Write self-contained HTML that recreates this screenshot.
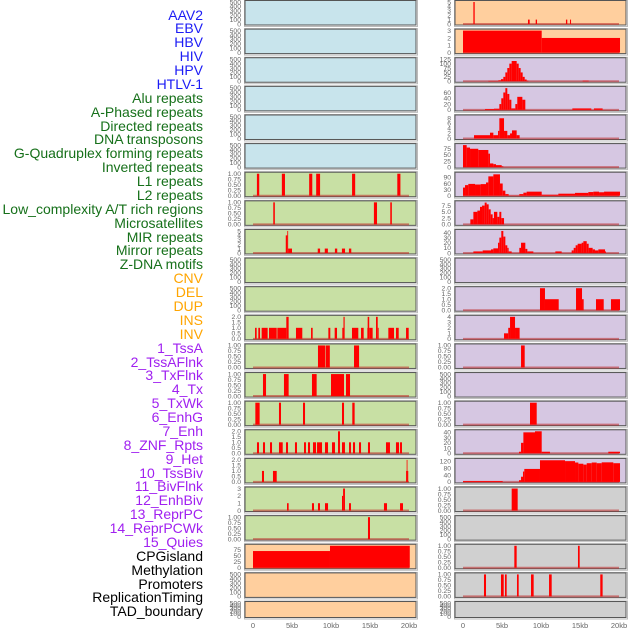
<!DOCTYPE html>
<html><head><meta charset="utf-8">
<style>
html,body{margin:0;padding:0;background:#fff;}
#root{position:relative;width:630px;height:630px;overflow:hidden;font-family:"Liberation Sans",sans-serif;}
.lab{position:absolute;right:427px;font-size:14px;line-height:14px;white-space:nowrap;}
svg{position:absolute;left:0;top:0;}
</style></head>
<body>
<div id="root">
<div id="labels"></div>
<svg id="chart" width="630" height="630"></svg>
</div>
<script>
// ---- track labels ----
const labelNames = ["AAV2","EBV","HBV","HIV","HPV","HTLV-1","Alu repeats","A-Phased repeats","Directed repeats","DNA transposons","G-Quadruplex forming repeats","Inverted repeats","L1 repeats","L2 repeats","Low_complexity A/T rich regions","Microsatellites","MIR repeats","Mirror repeats","Z-DNA motifs","CNV","DEL","DUP","INS","INV","1_TssA","2_TssAFlnk","3_TxFlnk","4_Tx","5_TxWk","6_EnhG","7_Enh","8_ZNF_Rpts","9_Het","10_TssBiv","11_BivFlnk","12_EnhBiv","13_ReprPC","14_ReprPCWk","15_Quies","CPGisland","Methylation","Promoters","ReplicationTiming","TAD_boundary"];
const labelGroups = [6,13,5,15,5];
const groupColors = ["#1c1cf5","#16701a","#ffa500","#a020f0","#000000"];

// ---- x axis ----
const xTickKb = [0,5,10,15,20];
const xTickText = ["0","5kb","10kb","15kb","20kb"];

// ---- panel y-axes ----
const emptyTicks = [0,100,200,300,400,500];
const t1 = [0,0.25,0.5,0.75,1];
const t2 = [0,0.5,1,1.5,2];

// ---- left column data: [startKb, endKb, value] ----
const L7 = [[0.5,0.8,1],[3.7,4.1,1],[7.2,7.6,1],[8.1,8.6,1],[12.7,13.1,1],[18.5,18.9,1]];
const L8 = [[2.6,2.8,1],[15.5,15.9,1],[17.6,17.8,1]];
const L9 = [[4.2,4.4,4],[4.4,4.5,5],[4.5,5.0,1],[8.3,8.6,1],[9.2,9.6,1],[10.5,10.8,1],[11.4,11.8,1],[12.3,12.6,1]];
const L12 = [[0.26,0.47,1],[0.68,0.9,1],[1.11,1.88,1],[2.05,3.04,1],[3.12,4.27,1],[4.27,4.57,2],[5.51,6.32,1],[7.44,7.65,1],[9.66,9.91,1],[10.47,10.77,1],[11.45,11.6,1],[11.6,11.75,2],[12.69,13.5,1],[13.85,14.19,1],[14.66,14.7,1],[14.7,14.9,2],[14.9,15.34,1],[15.77,15.99,2],[15.99,16.11,1],[17.35,18.08,1],[18.33,18.68,1],[19.62,19.96,1]];
const L13 = [[8.33,9.23,1],[9.3,9.85,1],[12.95,13.6,1]];
const L14 = [[1.28,1.67,1],[3.97,4.57,1],[7.56,8.16,1],[10.0,11.67,1],[11.92,12.44,1]];
const L15 = [[0.3,0.85,1],[3.33,3.59,1],[6.41,6.67,1],[11.41,11.67,1],[12.73,13.03,1]];
const L16 = [[0.51,0.77,1],[1.28,1.54,1],[2.18,2.44,1],[3.33,3.81,1],[4.23,4.49,1],[5.38,5.64,1],[6.54,6.79,1],[7.05,7.31,1],[7.69,8.08,1],[8.21,8.85,1],[9.23,9.62,1],[10.13,10.51,1],[10.9,11.15,2],[11.41,11.79,1],[12.31,12.56,1],[12.82,13.08,1],[13.59,13.85,1],[14.74,15.0,1],[17.05,17.56,1],[18.33,18.72,1],[18.85,19.1,1]];
const L17 = [[1.15,1.41,1],[2.56,3.04,1],[19.62,19.7,1],[19.7,19.8,2],[19.8,19.87,1]];
const L18 = [[4.36,4.57,1],[7.56,7.82,1],[8.33,8.59,1],[9.23,9.62,1],[11.41,11.55,2],[11.55,11.79,3],[12.31,12.56,1],[16.79,17.18,1],[18.85,19.23,1]];
const L19 = [[14.74,15.0,1]];
const L20 = [[0,9.87,70],[9.87,20.1,92]];

// ---- right column data ----
const R1 = [[1.33,1.5,5],[8.33,8.55,1],[9.32,9.49,1],[13.2,13.37,1],[13.72,13.85,1]];
const R2 = [[0,10.09,3],[10.09,20.13,2]];
const R3 = [[3.25,4.53,2],[4.53,4.87,5],[4.87,5.17,12],[5.17,5.43,25],[5.43,5.68,50],[5.68,5.94,75],[5.94,6.24,100],[6.24,6.88,115],[6.88,7.14,100],[7.14,7.39,75],[7.39,7.65,50],[7.65,7.91,25],[7.91,8.16,10],[8.16,8.38,3],[15.34,16.11,3]];
const R4 = [[2.82,3.97,3],[3.97,4.66,4],[4.66,4.91,20],[4.91,5.17,40],[5.17,5.43,60],[5.43,5.68,75],[5.68,5.94,55],[5.94,6.2,35],[6.2,6.71,5],[6.71,6.96,20],[6.96,7.61,45],[7.61,7.99,35],[14.02,16.45,5],[16.79,17.9,5]];
const R5 = [[1.41,3.46,1.3],[3.46,3.89,2.3],[3.89,4.49,1.3],[4.49,4.66,3],[4.66,5.26,8],[5.26,5.68,3],[5.68,6.03,1.3],[6.03,6.28,2],[6.28,6.88,3.2],[6.88,7.26,1.3]];
const R6 = [[0,0.47,90],[0.47,0.9,80],[0.9,1.96,75],[1.96,3.25,70],[3.25,3.46,55],[3.46,3.89,15],[3.89,4.23,12],[4.23,4.96,8],[4.96,5.17,3]];
const R7 = [[0,0.26,40],[0.26,0.68,52],[0.68,1.54,58],[1.54,2.26,55],[2.26,2.95,57],[2.95,3.25,65],[3.25,3.89,95],[3.89,4.74,105],[4.74,5.09,60],[5.09,5.43,25],[5.43,5.85,8],[5.85,7.22,1],[7.22,7.74,8],[7.74,8.16,15],[8.16,10.09,20],[10.09,12.22,5],[12.22,14.36,10],[14.36,16.07,14],[16.07,16.71,18],[16.71,17.44,20],[17.44,18.08,17],[18.08,20.13,20]];
const R8 = [[0.94,1.33,2],[1.33,1.84,5],[1.84,2.18,5.5],[2.18,2.44,7],[2.44,2.78,7.5],[2.78,3.03,8.7],[3.03,3.29,8],[3.29,3.55,6],[3.55,3.8,4],[3.8,3.97,2.5],[3.97,4.4,5],[4.4,4.66,3],[4.66,4.91,5],[4.91,5.26,2.5]];
const R9 = [[1.33,2.52,3],[2.52,3.59,5],[3.59,3.89,7],[3.89,4.49,9],[4.49,4.66,20],[4.66,4.91,30],[4.91,5.17,43],[5.17,5.43,32],[5.43,5.68,15],[5.68,5.85,10],[5.85,6.24,3],[7.22,7.44,10],[7.44,7.99,20],[7.99,8.25,8],[8.25,9.02,3],[11.84,12.65,3],[13.93,14.19,5],[14.19,14.44,10],[14.44,14.7,15],[14.7,15.21,18],[15.21,15.43,20],[15.43,15.86,23],[15.86,16.11,18],[16.11,16.62,10],[16.62,16.92,7],[16.92,17.35,5],[17.35,18.21,7],[18.21,18.33,3]];
const R11 = [[9.87,10.51,2],[10.51,12.27,1],[14.49,15.26,2],[15.26,15.47,1],[17.05,18.04,1],[18.97,20.13,1]];
const R12 = [[5.26,5.8,1],[5.8,6.03,2],[6.03,6.67,4],[6.67,7.26,2]];
const R13 = [[7.44,7.91,1]];
const R15 = [[8.59,9.45,1]];
const R16 = [[7.18,7.44,3],[7.44,7.74,20],[7.74,9.23,40],[9.23,10.09,42],[10.09,11.15,3],[18.63,20.13,3]];
const R17 = [[0,5.09,5],[7.18,7.44,10],[7.44,7.69,30],[7.69,7.86,60],[7.86,9.87,75],[9.87,13.08,125],[13.08,14.36,120],[14.36,14.79,112],[14.79,15.43,105],[15.43,15.86,100],[15.86,16.5,108],[16.5,17.14,112],[17.14,17.78,108],[17.78,19.27,113],[19.27,20.13,108]];
const R18 = [[6.24,7.01,1]];
const R20 = [[6.58,6.88,1],[14.74,14.96,1]];
const R21 = [[2.69,2.95,1],[4.87,5.22,1],[5.38,5.6,1],[6.92,7.14,1],[8.72,9.06,1],[11.03,11.37,1],[17.6,17.9,1]];

const BLUE="#c8e4ec", GREEN="#c8e0a4", ORANGE="#ffcf9e", PURPLE="#d6c7e2", GRAY="#d0d0d0";
// per-row config: [bg, data, ymax, ticks]
const leftCol = [
 [BLUE,null],[BLUE,null],[BLUE,null],[BLUE,null],[BLUE,null],[BLUE,null],
 [GREEN,L7,1,t1],[GREEN,L8,1,t1],[GREEN,L9,5,[0,1,2,3,4,5]],[GREEN,null],[GREEN,null],
 [GREEN,L12,2,t2],[GREEN,L13,1,t1],[GREEN,L14,1,t1],[GREEN,L15,1,t1],[GREEN,L16,2,t2],[GREEN,L17,2,t2],
 [GREEN,L18,3,[0,1,2,3]],[GREEN,L19,1,t1],[ORANGE,L20,92,[0,25,50,75]],[ORANGE,null],[ORANGE,null]
];
const rightCol = [
 [ORANGE,R1,5,[0,1,2,3,4,5]],[ORANGE,R2,3,[0,1,2,3]],
 [PURPLE,R3,125,[0,25,50,75,100,125]],[PURPLE,R4,76,[0,20,40,60]],[PURPLE,R5,8.7,[0,2,4,6,8]],
 [PURPLE,R6,90,[0,25,50,75]],[PURPLE,R7,108,[0,30,60,90]],[PURPLE,R8,8.8,[0,2.5,5,7.5]],
 [PURPLE,R9,43,[0,10,20,30,40]],[PURPLE,null],[PURPLE,R11,2,t2],[PURPLE,R12,4,[0,1,2,3,4]],
 [PURPLE,R13,1,t1],[PURPLE,null],[PURPLE,R15,1,t1],[PURPLE,R16,42,[0,10,20,30,40]],
 [PURPLE,R17,127,[0,40,80,120]],[GRAY,R18,1,t1],[GRAY,null],[GRAY,R20,1,t1],[GRAY,R21,1,t1],[GRAY,null]
];

// ---- render labels ----
const labDiv = document.getElementById('labels');
let gi=0, cnt=0;
labelNames.forEach((n,i)=>{
  while(cnt>=labelGroups[gi]){cnt-=labelGroups[gi];gi++;}
  cnt++;
  const d=document.createElement('div');
  d.className='lab';
  
  
  d.style.top=(15+i*13.88-7.5)+'px';
  d.style.color=groupColors[gi];
  d.textContent=n;
  labDiv.appendChild(d);
});

// ---- render panels ----
const NS="http://www.w3.org/2000/svg";
const svg=document.getElementById('chart');
function mk(tag,attrs,parent){const e=document.createElementNS(NS,tag);for(const k in attrs)e.setAttribute(k,attrs[k]);(parent||svg).appendChild(e);return e;}
const cols=[{px:245,pw:171,x0:253,x1:409,cfg:leftCol,tx:241},{px:455,pw:171,x0:463,x1:619,cfg:rightCol,tx:451}];
function fmt(v,ticks){const dec=ticks.some(t=>t%1!==0)?(ticks.some(t=>(t*10)%1!==0)?2:1):0;return v.toFixed(dec);}
cols.forEach((c,ci)=>{
  const xs=kb=>c.x0+kb/20*(c.x1-c.x0);
  c.cfg.forEach((row,ri)=>{
    const top=ri*28.62+0.5;
    const h=ri===21?16:24.5;
    const g=mk('g',{});
    
    
    mk('rect',{x:c.px-0.5,y:top-0.5,width:c.pw+2,height:h+2,fill:'none',stroke:'#bbb','stroke-width':1},g);
    mk('rect',{x:c.px,y:top,width:c.pw,height:h,fill:row[0],stroke:'#555','stroke-width':1},g);
    const data=row[1];
    const ymax=data?row[2]:500;
    const ticks=data?row[3]:emptyTicks;
    const ys=v=>top+h-1-v/ymax*(h-2.5);
    ticks.forEach(t=>{
      const tt=mk('text',{x:c.tx,y:ys(t)+2.3,'font-size':'6.8','text-anchor':'end',fill:'#666','font-family':'Liberation Sans, sans-serif'},g);
      
      
      tt.textContent=fmt(t,ticks);
    });
    if(data){
      const bl=mk('line',{x1:xs(0),x2:xs(20),y1:ys(0),y2:ys(0),stroke:'rgba(190,40,40,0.55)','stroke-width':2},g);
      
      
      data.forEach(s=>{
        const r=mk('rect',{x:xs(s[0]),y:ys(s[2]),width:Math.max(0.8,xs(s[1])-xs(s[0])),height:ys(0)-ys(s[2]),fill:'#ff0000'},g);
        
        
      });
    }
  });
  xTickKb.forEach((k,i)=>{
    const t=mk('text',{x:xs(k),y:628,'font-size':'7.5','text-anchor':'middle',fill:'#666','font-family':'Liberation Sans, sans-serif'});
    
    
    t.textContent=xTickText[i];
  });
});
</script>
</body></html>
